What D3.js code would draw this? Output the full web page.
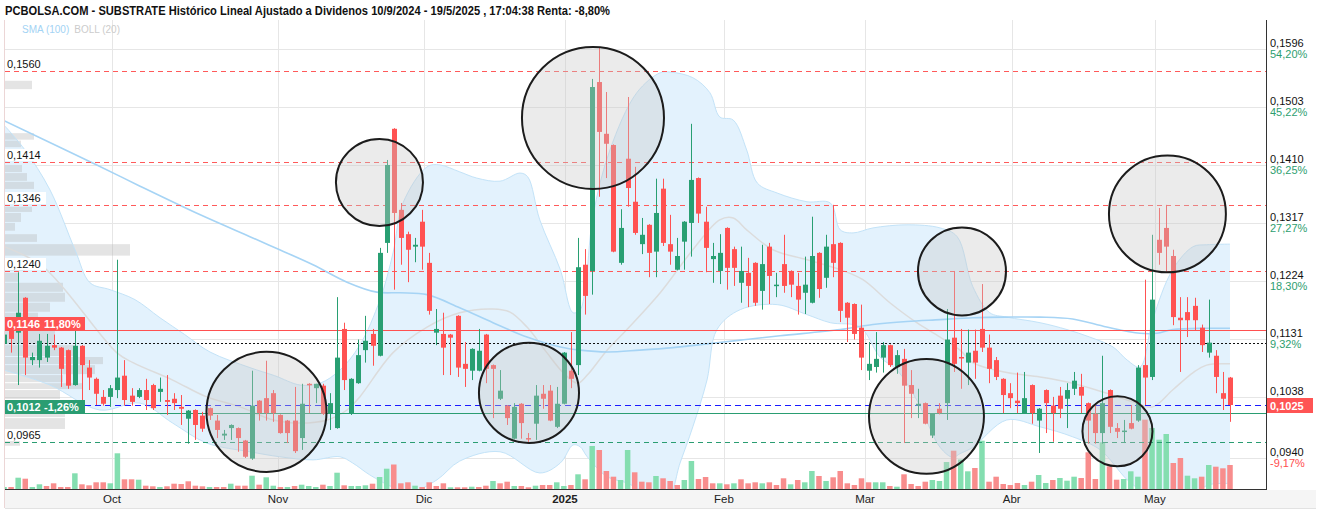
<!DOCTYPE html>
<html><head><meta charset="utf-8">
<script src="https://cdn.jsdelivr.net/npm/d3@7/dist/d3.min.js"></script>
<style>html,body{margin:0;padding:0;background:#fff;}svg{display:block;}</style>
</head><body>
<svg id="c" width="1320" height="512"></svg>
<script>
const titleText = "PCBOLSA.COM - SUBSTRATE Histórico Lineal Ajustado a Dividenos 10/9/2024 - 19/5/2025 , 17:04:38 Renta: -8,80%";
const legendItems = ["SMA (100)", "BOLL (20)"];

// daily candles (trading-day index 0..173, 10/9/2024 .. 19/5/2025)
const open = [
.1123,.1146,.1141,.1197,.1097,.1097,.1101,.1121,.1117,.1113,
.1057,.1120,.1085,.1067,.1038,.1038,.1049,.1072,.1040,.1038,
.1049,.1057,.1046,.1033,.1035,.1022,.1003,.1017,.1008,.1020,
.1000,.0976,.0988,.0988,.0968,.0939,.1032,.1036,.1044,.1009,
.1000,.1000,.0972,.1059,.1052,.1056,.1012,.0988,.1147,.1012,
.1060,.1113,.1139,.1104,.1285,.1468,.1338,.1299,.1279,.1319,
.1253,.1141,.1139,.1138,.1168,.1091,.1080,.1080,.1138,.1089,
.1035,.1024,.0971,.1027,.0972,.0995,.1043,.1048,.0990,.1027,
.1080,.1089,.1250,.1240,.1543,.1460,.1442,.1253,.1420,.1351,
.1283,.1314,.1271,.1372,.1283,.1242,.1287,.1317,.1389,.1319,
.1259,.1240,.1309,.1275,.1221,.1237,.1253,.1208,.1279,.1216,
.1251,.1240,.1216,.1205,.1189,.1269,.1229,.1283,.1285,.1189,
.1187,.1149,.1080,.1086,.1101,.1121,.1086,.1099,.1057,.1024,
.1028,.0976,.1019,.1028,.1133,.1102,.1093,.1112,.1147,.1117,
.1097,.1067,.1044,.1032,.1012,.1057,.1000,.1049,.1024,.1040,
.1035,.1051,.1054,.1028,.1011,.0980,.1049,.0988,.0982,.0996,
.1000,.1089,.1070,.1290,.1309,.1264,.1165,.1174,.1184,.1149,
.1109,.1104,.1044,.1069];
const high = [
.1141,.1147,.1238,.1198,.1109,.1139,.1139,.1138,.1118,.1114,
.1144,.1121,.1097,.1069,.1049,.1057,.1258,.1097,.1052,.1052,
.1067,.1059,.1069,.1073,.1044,.1041,.1017,.1018,.1014,.1021,
.1009,.0985,.0994,.0989,.0969,.1080,.1033,.1096,.1049,.1010,
.1001,.1054,.1059,.1060,.1059,.1059,.1044,.1198,.1157,.1068,
.1130,.1168,.1147,.1277,.1418,.1469,.1349,.1303,.1293,.1338,
.1269,.1179,.1173,.1139,.1169,.1126,.1116,.1147,.1139,.1090,
.1081,.1025,.1028,.1028,.0980,.1057,.1057,.1057,.1054,.1110,
.1142,.1293,.1275,.1548,.1598,.1527,.1443,.1339,.1519,.1407,
.1325,.1315,.1388,.1388,.1330,.1293,.1320,.1476,.1390,.1343,
.1285,.1299,.1310,.1279,.1279,.1261,.1254,.1282,.1285,.1237,
.1298,.1241,.1237,.1263,.1327,.1270,.1298,.1346,.1286,.1190,
.1188,.1186,.1126,.1142,.1126,.1122,.1113,.1115,.1081,.1051,
.1029,.1011,.1028,.1179,.1240,.1147,.1146,.1146,.1219,.1138,
.1102,.1068,.1060,.1077,.1078,.1058,.1020,.1050,.1038,.1054,
.1060,.1078,.1075,.1029,.1028,.1104,.1050,.0996,.1001,.1025,
.1089,.1226,.1298,.1341,.1346,.1274,.1198,.1198,.1197,.1154,
.1194,.1113,.1078,.1070];
const low = [
.1120,.1109,.1057,.1073,.1089,.1085,.1094,.1113,.1054,.1051,
.1056,.1024,.1049,.1025,.1024,.1022,.1036,.1024,.1024,.1036,
.1017,.1017,.1030,.1009,.1017,.0993,.0963,.0969,.0982,.1001,
.0972,.0969,.0969,.0950,.0940,.0937,.1000,.1000,.0998,.0979,
.0964,.0948,.0953,.1012,.1028,.1009,.0985,.0987,.1049,.1009,
.1059,.1093,.1088,.1103,.1269,.1210,.1250,.1222,.1254,.1242,
.1170,.1121,.1073,.1073,.1070,.1054,.1065,.1079,.1060,.1004,
.1033,.0993,.0970,.0971,.0964,.0969,.1019,.0999,.0988,.1026,
.1052,.1073,.1170,.1202,.1359,.1389,.1270,.1250,.1343,.1298,
.1267,.1230,.1230,.1280,.1250,.1241,.1242,.1263,.1317,.1238,
.1221,.1219,.1210,.1216,.1189,.1182,.1184,.1178,.1187,.1198,
.1205,.1198,.1170,.1171,.1188,.1197,.1213,.1230,.1158,.1126,
.1130,.1081,.1065,.1077,.1077,.1086,.1075,.0964,.1004,.1004,
.0994,.0972,.1010,.1001,.1078,.1051,.1057,.1067,.1110,.1060,
.1065,.1012,.1020,.1012,.1011,.0995,.0948,.0980,.0966,.1004,
.0988,.1041,.1012,.0963,.0963,.0963,.0980,.0972,.0964,.0986,
.0998,.1025,.1065,.1250,.1237,.1153,.1078,.1134,.1145,.1110,
.1101,.1044,.1017,.0998];
const close = [
.1138,.1131,.1173,.1101,.1102,.1128,.1120,.1117,.1083,.1056,
.1120,.1089,.1069,.1043,.1027,.1052,.1069,.1033,.1030,.1049,
.1033,.1020,.1051,.1030,.1028,.1019,.1016,.0993,.0987,.1008,
.0985,.0979,.0993,.0972,.0942,.1024,.1012,.1012,.1012,.0980,
.0980,.0951,.1027,.1057,.1059,.1011,.1028,.1101,.1065,.1067,
.1105,.1128,.1120,.1269,.1410,.1333,.1293,.1274,.1282,.1279,
.1176,.1147,.1117,.1133,.1085,.1083,.1115,.1112,.1083,.1083,
.1048,.1004,.1022,.0996,.0971,.1040,.1035,.1000,.1027,.1109,
.1067,.1246,.1200,.1535,.1463,.1444,.1271,.1309,.1373,.1301,
.1298,.1269,.1333,.1285,.1271,.1264,.1319,.1386,.1332,.1277,
.1264,.1269,.1245,.1245,.1240,.1216,.1189,.1251,.1232,.1218,
.1216,.1218,.1194,.1218,.1264,.1211,.1279,.1253,.1176,.1165,
.1139,.1101,.1091,.1099,.1121,.1089,.1105,.1056,.1043,.1027,
.0995,.1011,.1012,.1130,.1091,.1101,.1109,.1093,.1117,.1083,
.1070,.1041,.1036,.1028,.1036,.1012,.1019,.1028,.1012,.1019,
.1049,.1064,.1040,.1000,.0980,.1028,.0990,.0982,.0984,.0987,
.1085,.1069,.1194,.1269,.1279,.1166,.1161,.1161,.1161,.1121,
.1125,.1070,.1035,.1025];
const volume = [
20,20,113,103,20,47,30,57,20,20,
157,47,37,67,67,57,357,97,97,93,
33,27,20,27,53,50,77,33,27,20,
20,20,53,33,33,133,43,117,33,20,
20,30,43,30,20,43,30,163,37,30,
30,37,53,120,203,245,57,67,33,20,
67,30,57,17,17,17,23,20,33,80,
57,73,30,30,17,33,40,40,67,30,
40,147,97,430,390,180,123,90,390,167,
73,67,130,107,80,40,90,280,100,120,
57,57,47,57,97,57,67,57,67,40,
107,47,90,67,180,130,80,117,180,57,
40,107,67,67,67,30,23,147,50,30,
73,90,80,270,383,295,177,210,483,73,
123,50,40,60,40,73,140,60,90,110,
83,123,110,367,100,467,227,93,100,177,
123,693,610,493,550,260,310,133,107,123,
240,223,207,240];

// month ticks (position in trading-day index)
const monthLabels = ["Oct","Nov","Dic","2025","Feb","Mar","Abr","May"];
const monthPos = [15.24,38.66,59.27,79.16,101.6,121.5,142.2,162.4];

// right axis ticks
const axisPrices = [0.1596,0.1503,0.1410,0.1317,0.1224,0.1131,0.1038,0.0940];
const axisPriceLabels = ["0,1596","0,1503","0,1410","0,1317","0,1224","0,1131","0,1038","0,0940"];
const axisPctLabels = ["54,20%","45,22%","36,25%","27,27%","18,30%","9,32%","0,35%","-9,17%"];

// Bollinger (20) and SMA (100), read at sample points
const upperIdx = [0,2.96,6.49,10.02,12.14,14.96,18.48,22.0,25.5,29.07,34.7,38.2,41.8,44.6,47.4,50.2,53.06,54.9,56.3,59.7,61.5,64.3,66.7,70.0,72.8,73.9,75.6,78.5,80.3,81.3,82.0,83.1,85.5,89.3,92.6,94.0,97.2,99.6,101.0,102.9,104.8,106.3,109.1,113.3,116.6,118.0,119.8,122.6,127.4,132.1,134.5,136.7,139.1,141.5,146.2,150.0,153.2,156.5,158.5,160.3,162.1,164.9,167.8,169.7,173];
const upperVal = [.1474,.1434,.1370,.1274,.1221,.1210,.1194,.1165,.1138,.1110,.1085,.1072,.1057,.1060,.1081,.1121,.1194,.1269,.1349,.1407,.1410,.1399,.1389,.1384,.1397,.1391,.1322,.1242,.1173,.1178,.1210,.1327,.1434,.1526,.1558,.1559,.1550,.1526,.1487,.1482,.1434,.1381,.1365,.1351,.1349,.1306,.1301,.1309,.1314,.1309,.1295,.1215,.1173,.1166,.1157,.1146,.1134,.1118,.1097,.1086,.1162,.1242,.1279,.1282,.1283];
const midIdx = [0,5.5,15.9,18.2,23.8,28.6,33.3,38.0,41.8,45.6,48.4,50.2,54.9,59.7,64.3,69.0,71.4,73.8,76.6,78.9,80.9,82.3,85.1,87.9,92.6,97.2,101.0,102.9,104.8,108.5,113.3,118.0,121.2,125.0,128.8,132.1,134.9,136.7,141.5,146.2,150.8,155.6,159.3,162.1,164.9,167.8,169.7,173];
const midVal = [.1279,.1247,.1109,.1093,.1065,.1038,.1022,.1001,.0996,.1001,.1017,.1038,.1109,.1150,.1173,.1179,.1174,.1150,.1109,.1077,.1060,.1073,.1113,.1146,.1205,.1274,.1322,.1325,.1306,.1274,.1258,.1242,.1226,.1189,.1157,.1134,.1113,.1093,.1077,.1070,.1060,.1044,.1030,.1022,.1049,.1077,.1089,.1091];
const lowerIdx = [0,6.49,13.5,19.2,23.8,28.6,34.7,38.9,43.6,47.4,49.2,51.6,54.9,57.3,61.1,64.3,70.0,75.6,78.5,80.3,81.3,82.3,85.1,87.9,91.2,93.6,95.4,97.2,99.2,100.6,103.9,109.1,113.3,116.6,120.8,123.6,126.0,128.8,132.1,133.9,134.9,136.7,141.5,146.2,150.8,154.7,158.5,161.3,164.9,167.8,169.7,173];
const lowerVal = [.1081,.1057,.1017,.1028,.0996,.0964,.0950,.0942,.0937,.0942,.0932,.0913,.0893,.0885,.0905,.0935,.0950,.0916,.0932,.0961,.0958,.0942,.0910,.0900,.0881,.0873,.0932,.0990,.1065,.1146,.1178,.1186,.1170,.1157,.1150,.1102,.1081,.1033,.0957,.0941,.0947,.0957,.1001,.0990,.0974,.0953,.0905,.0881,.0856,.0875,.0896,.0899];
const smaIdx = [0,13.1,19.2,27.7,34.7,38.9,43.6,48.4,52.6,55.9,59.7,64.3,69.0,73.8,78.5,81.3,85.1,89.7,94.4,99.2,103.9,109.5,118.0,122.6,127.4,132.1,136.7,141.5,146.2,150.8,155.6,160.3,162.7,164.9,169.7,173];
const smaVal = [.1481,.1410,.1376,.1330,.1295,.1274,.1250,.1222,.1206,.1205,.1202,.1181,.1157,.1134,.1118,.1113,.1110,.1113,.1117,.1123,.1129,.1136,.1146,.1154,.1159,.1162,.1165,.1166,.1166,.1163,.1150,.1140,.1140,.1146,.1148,.1148];

// volume-at-price profile (left)
const vpLow  = [.1530,.1449,.1437,.1397,.1383,.1370,.1333,.1317,.1303,.1285,.1263,.1239,.1221,.1205,.1189,.1173,.1162,.1146,.1121,.1102,.1089,.1073,.1060,.1049,.1033,.1004,.0985,.0972,.0958];
const vpHigh = [.1545,.1461,.1449,.1410,.1397,.1383,.1343,.1333,.1317,.1299,.1283,.1253,.1237,.1221,.1205,.1189,.1173,.1162,.1146,.1121,.1102,.1089,.1073,.1060,.1049,.1022,.1004,.0985,.0972];
const vpVol  = [27,29,16,17,22,29,27,16,10,32,125,20,14,58,60,45,33,40,50,70,98,90,58,78,55,60,60,13,15];

// annotation circles (centre index / price, radius in trading days)
const circIdx   = [37.04,52.98,74.08,83.11,135.18,130.17,157.12,164.17];
const circPrice = [.1014,.1382,.10445,.14854,.12393,.10068,.09828,.13315];
const circR     = [8.47,6.14,7.06,10.02,6.21,8.11,4.94,8.25];

// horizontal levels
const resistLevels = [0.1560,0.1414,0.1346,0.1240];
const resistLabels = ["0,1560","0,1414","0,1346","0,1240"];
const supportLevel = 0.0965, supportLabel = "0,0965";
const redLevel = 0.1146, redLabel = ["0,1146","11,80%"];
const greenLevel = 0.1012, greenLabel = ["0,1012","-1,26%"];
const refLevel = 0.1124;
const lastPrice = 0.1025, lastLabel = "0,1025";

// ---------------- drawing ----------------
const FONT = "'Liberation Sans', Arial, sans-serif";
const GREEN = "#289f72", RED = "#ff5252";
const svg = d3.select("#c");
const P = {l:5, r:1266, t:20, b:489};
const x = d3.scaleLinear().domain([0,173]).range([4,1230]);
const y = d3.scaleLinear().domain([0.0940,0.1596]).range([458,49]);
const vy = d3.scaleLinear().domain([0,700]).range([P.b, P.b-70]);
const vpx = d3.scaleLinear().domain([0,125]).range([P.l, P.l+125]);
const cr = v => Math.round(v)+0.5;

svg.append("rect").attr("width",1320).attr("height",512).attr("fill","#fff");
svg.append("defs").append("clipPath").attr("id","clip").append("rect")
  .attr("x",P.l).attr("y",P.t).attr("width",P.r-P.l).attr("height",P.b-P.t);
const g = svg.append("g").attr("clip-path","url(#clip)");

// grid
g.selectAll(".hg").data(axisPrices).join("line").attr("class","hg")
  .attr("x1",P.l).attr("x2",P.r).attr("y1",d=>cr(y(d))).attr("y2",d=>cr(y(d)))
  .attr("stroke","#e6e6e6");
g.selectAll(".vg").data(monthPos).join("line").attr("class","vg")
  .attr("x1",d=>cr(x(d))).attr("x2",d=>cr(x(d))).attr("y1",P.t).attr("y2",P.b)
  .attr("stroke","#e6e6e6");

// Bollinger fill
const pts = (ix, vals) => ix.map((d,i)=>[x(d), y(vals[i])]);
const curve = d3.line().curve(d3.curveCatmullRom.alpha(0.5));
const upP = pts(upperIdx, upperVal), loP = pts(lowerIdx, lowerVal);
const fillD = curve(upP) + "L" + curve(loP.slice().reverse()).slice(1) + "Z";
g.append("path").attr("d",fillD).attr("fill","#e3f2fd").attr("stroke","none");

// volume profile
g.selectAll(".vp").data(vpVol).join("rect").attr("class","vp")
  .attr("x",P.l).attr("width",d=>vpx(d)-P.l)
  .attr("y",(d,i)=>y(vpHigh[i])).attr("height",(d,i)=>Math.max(1,y(vpLow[i])-y(vpHigh[i])-1))
  .attr("fill","rgba(185,185,185,0.38)");

// band lines
g.append("path").attr("d",curve(upP)).attr("fill","none").attr("stroke","#c3e3f8").attr("stroke-width",1);
g.append("path").attr("d",curve(loP)).attr("fill","none").attr("stroke","#c3e3f8").attr("stroke-width",1);
g.append("path").attr("d",curve(pts(midIdx,midVal))).attr("fill","none").attr("stroke","#dcdcdc").attr("stroke-width",1.5);
g.append("path").attr("d",curve(pts(smaIdx,smaVal))).attr("fill","none").attr("stroke","#a6d4f5").attr("stroke-width",1.6);

// volume bars
const idx = d3.range(close.length);
g.selectAll(".vol").data(idx).join("rect").attr("class","vol")
  .attr("x",i=>x(i)-2.75).attr("width",5.5)
  .attr("y",i=>vy(volume[i])).attr("height",i=>P.b-vy(volume[i]))
  .attr("fill",i=> (i===0 || close[i]>=close[i-1]) ? "#84deb0" : "#f88d8d");

// level lines
function hline(v, color, dash, w){
  g.append("line").attr("x1",P.l).attr("x2",P.r).attr("y1",cr(y(v))).attr("y2",cr(y(v)))
   .attr("stroke",color).attr("stroke-width",w||1).attr("stroke-dasharray",dash||null);
}
resistLevels.forEach(v=>hline(v,"#ff5a5a","5,4"));
hline(supportLevel,"#2a9d72","5,4");
hline(redLevel,"#ff5050",null,1.2);
hline(refLevel,"#111","2,2");
hline(lastPrice,"#1b1bff","6,4",1.2);
hline(greenLevel,"#2a9d72",null,1.2);

// candles
const cg = g.append("g");
cg.selectAll(".wk").data(idx).join("line").attr("class","wk")
  .attr("x1",i=>cr(x(i))).attr("x2",i=>cr(x(i)))
  .attr("y1",i=>y(high[i])).attr("y2",i=>y(low[i]))
  .attr("stroke",i=>close[i]>=open[i]?GREEN:RED).attr("stroke-width",1);
cg.selectAll(".bd").data(idx).join("rect").attr("class","bd")
  .attr("x",i=>Math.round(x(i))-2).attr("width",5)
  .attr("y",i=>y(Math.max(open[i],close[i])))
  .attr("height",i=>Math.max(1.5,Math.abs(y(open[i])-y(close[i]))))
  .attr("fill",i=>close[i]>=open[i]?GREEN:RED);

// circles
g.selectAll(".ci").data(circIdx).join("circle").attr("class","ci")
  .attr("cx",d=>x(d)).attr("cy",(d,i)=>y(circPrice[i]))
  .attr("r",(d,i)=>x(circR[i])-x(0))
  .attr("fill","rgba(200,200,200,0.36)").attr("stroke","#1c1c1c").attr("stroke-width",2);

// left labels
function plainLabel(v, txt){
  const yy = Math.round(y(v));
  svg.append("rect").attr("x",P.l).attr("y",yy-13).attr("width",41).attr("height",12).attr("fill","#fff");
  svg.append("text").attr("x",7).attr("y",yy-3).text(txt)
    .attr("font-family",FONT).attr("font-size",11).attr("fill","#111");
}
resistLevels.forEach((v,i)=>plainLabel(v,resistLabels[i]));
plainLabel(supportLevel,supportLabel);
function boxLabel(v, parts, color){
  const yy = Math.round(y(v));
  svg.append("rect").attr("x",P.l).attr("y",yy-13).attr("width",80).attr("height",14).attr("fill",color);
  svg.append("text").attr("x",7).attr("y",yy-2).text(parts[0])
    .attr("font-family",FONT).attr("font-size",11).attr("font-weight","bold").attr("fill","#fff");
  svg.append("text").attr("x",44).attr("y",yy-2).text(parts[1])
    .attr("font-family",FONT).attr("font-size",11).attr("font-weight","bold").attr("fill","#fff");
}
boxLabel(redLevel, redLabel, "#ff5252");
boxLabel(greenLevel, greenLabel, "#2a9d72");

// axes frame
svg.append("line").attr("x1",cr(P.r)).attr("x2",cr(P.r)).attr("y1",P.t).attr("y2",P.b+1).attr("stroke","#333");
svg.append("rect").attr("x",P.l).attr("y",P.b+1).attr("width",1311).attr("height",18).attr("fill","#f5f5f5");
svg.append("line").attr("x1",P.l).attr("x2",1316).attr("y1",P.b+19.5).attr("y2",P.b+19.5).attr("stroke","#e2e2e2");
svg.append("line").attr("x1",P.l).attr("x2",P.r).attr("y1",P.b+0.5).attr("y2",P.b+0.5).attr("stroke","#333");
svg.append("line").attr("x1",4.5).attr("x2",4.5).attr("y1",P.t).attr("y2",P.b+19).attr("stroke","#ecd6d6");

// right axis labels (the percent under the last-price tag is hidden, as in the source)
const lastY = Math.round(y(lastPrice));
axisPrices.forEach((v,i)=>{
  const yy = Math.round(y(v));
  svg.append("text").attr("x",1270).attr("y",yy-2).text(axisPriceLabels[i])
    .attr("font-family",FONT).attr("font-size",11).attr("fill","#111");
  if (Math.abs((yy+5) - lastY) > 12) {
    svg.append("text").attr("x",1270).attr("y",yy+9).text(axisPctLabels[i])
      .attr("font-family",FONT).attr("font-size",11)
      .attr("fill", v < 0.1035 ? "#ff4d4d" : "#2e9e6f");
  }
});
svg.append("rect").attr("x",1267).attr("y",lastY-7).attr("width",46).attr("height",15).attr("fill","#ff5454");
svg.append("text").attr("x",1270).attr("y",lastY+4.5).text(lastLabel)
  .attr("font-family",FONT).attr("font-size",11).attr("font-weight","bold").attr("fill","#fff");

// x axis labels
svg.selectAll(".ml").data(monthLabels).join("text").attr("class","ml")
  .attr("x",(d,i)=>x(monthPos[i])).attr("y",503).attr("text-anchor","middle")
  .attr("font-family",FONT).attr("font-size",11.5)
  .attr("font-weight",d=>d==="2025"?"bold":"normal").attr("fill","#222").text(d=>d);

// title + legend
svg.append("text").attr("x",5).attr("y",15).text(titleText)
  .attr("font-family",FONT).attr("font-size",12).attr("font-weight","bold").attr("fill","#111")
  .attr("textLength",605).attr("lengthAdjust","spacingAndGlyphs");
const lg1 = svg.append("text").attr("x",22).attr("y",33).text(legendItems[0])
  .attr("font-family",FONT).attr("font-size",10).attr("fill","#a3d3f4");
const w1 = lg1.node().getComputedTextLength();
svg.append("text").attr("x",22 + w1 + 5).attr("y",33).text(legendItems[1])
  .attr("font-family",FONT).attr("font-size",10).attr("fill","#cccccc");
</script>
</body></html>
